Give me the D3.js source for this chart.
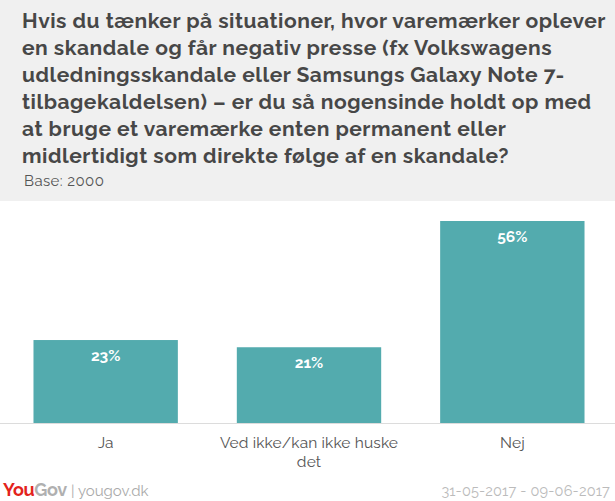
<!DOCTYPE html>
<html><head><meta charset="utf-8">
<script src="https://cdn.jsdelivr.net/npm/d3@7"></script>
<style>
html,body{margin:0;padding:0;background:#fff;}
svg{display:block;}
</style></head>
<body>
<svg id="chart" width="615" height="501"></svg>
<script>
const titleLines = [
  "Hvis du tænker på situationer, hvor varemærker oplever",
  "en skandale og får negativ presse (fx Volkswagens",
  "udledningsskandale eller Samsungs Galaxy Note 7-",
  "tilbagekaldelsen) – er du så nogensinde holdt op med",
  "at bruge et varemærke enten permanent eller",
  "midlertidigt som direkte følge af en skandale?"
];
const baseText = "Base: 2000";
const categories = ["Ja", "Ved ikke/kan ikke huske det", "Nej"];
const categoryLines = [["Ja"], ["Ved ikke/kan ikke huske", "det"], ["Nej"]];
const values = [23, 21, 56];
const dateText = "31-05-2017 - 09-06-2017";

const svg = d3.select("#chart");
const W = 615, H = 501;
const font = "Raleway, Lato, 'Open Sans', sans-serif";

svg.append("rect").attr("x",0).attr("y",0).attr("width",W).attr("height",201).attr("fill","#f0f0f0");

const title = svg.append("text").attr("font-family", font).attr("font-weight",700)
  .attr("font-size",21).attr("fill","#474747");
const tsp = [];
titleLines.forEach((l,i)=>{
  tsp.push(title.append("tspan").attr("x",22).attr("y",28+i*26.9).text(l));
});
// fit first line to the reference width (22 -> 606)
const w0 = tsp[0].node().getComputedTextLength();
const extra = Math.max(0, (584 - w0) / titleLines[0].length);
title.attr("letter-spacing", Math.min(extra, 1.2));

svg.append("text").attr("x",24).attr("y",186).attr("font-family",font).attr("font-size",15)
  .attr("letter-spacing",0.4).attr("fill","#555").text(baseText);

const x = d3.scaleBand().domain(categories).range([4,614]).paddingInner(0.29).paddingOuter(0.145);
const y = d3.scaleLinear().domain([0,56]).range([423,221]);

svg.append("line").attr("x1",0).attr("x2",W).attr("y1",423.5).attr("y2",423.5)
  .attr("stroke","#dcdcdc").attr("stroke-width",1);

const data = categories.map((c,i)=>({c, v: values[i], lines: categoryLines[i]}));

svg.selectAll("rect.bar").data(data).enter().append("rect").attr("class","bar")
  .attr("x",d=>x(d.c)).attr("width",x.bandwidth())
  .attr("y",d=>y(d.v)).attr("height",d=>y(0)-y(d.v))
  .attr("fill","#53abae");

svg.selectAll("text.val").data(data).enter().append("text").attr("class","val")
  .attr("x",d=>x(d.c)+x.bandwidth()/2).attr("y",d=>y(d.v)+21)
  .attr("text-anchor","middle").attr("font-family",font).attr("font-weight",700)
  .attr("font-size",15.5).attr("fill","#fff").text(d=>d.v+"%");

const xAxis = d3.axisBottom(x).tickSize(0).tickFormat("");
const ax = svg.append("g").attr("transform","translate(0,423)").call(xAxis);
ax.select(".domain").remove();
ax.selectAll(".tick").each(function(d,i){
  const t = d3.select(this).append("text").attr("font-family",font).attr("font-size",15.5)
    .attr("letter-spacing",0.15).attr("fill","#555").attr("text-anchor","middle");
  categoryLines[i].forEach((l,j)=>{
    t.append("tspan").attr("x",0).attr("y",25+j*18.5).text(l);
  });
});

const logo = svg.append("text").attr("x",3).attr("y",496).attr("font-family",font)
  .attr("font-size",18).attr("font-weight",700).attr("letter-spacing",-0.3);
logo.append("tspan").attr("fill","#e3231b").text("You");
logo.append("tspan").attr("fill","#b0b0b0").text("Gov");
svg.append("text").attr("x",71).attr("y",496).attr("font-family",font).attr("font-size",15)
  .attr("fill","#aaa").text("| yougov.dk");
svg.append("text").attr("x",610).attr("y",496).attr("text-anchor","end").attr("font-family",font)
  .attr("font-size",14.5).attr("letter-spacing",0.2).attr("fill","#bbb").text(dateText);
</script>
</body></html>
